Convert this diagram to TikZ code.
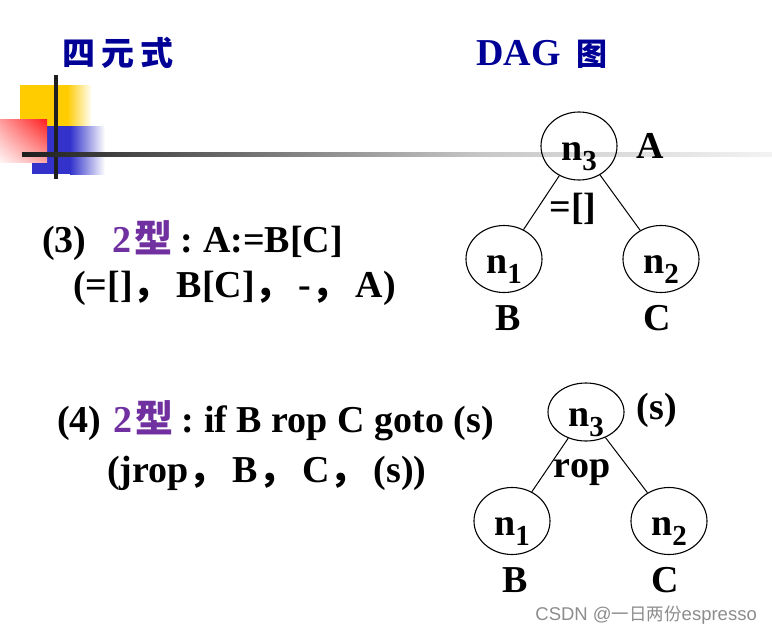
\documentclass[tikz,border=0pt]{standalone}
\usepackage{fontspec}
\setmainfont{Liberation Serif}
\newfontfamily\cjk{Noto Sans CJK SC}
\newfontfamily\marksans{Liberation Sans}
\usetikzlibrary{shapes.geometric,shadings}

\definecolor{titleblue}{RGB}{0,0,150}
\definecolor{typepurple}{RGB}{112,48,160}
\definecolor{barYellow}{RGB}{255,204,0}
\definecolor{barBlue}{RGB}{51,51,204}
\definecolor{barRed}{RGB}{255,30,30}

\newcommand{\nsub}[1]{n\raisebox{-10pt}{\fontsize{29}{29}\selectfont #1}}
\newcommand{\qc}{{\cjk ，}\hspace{6pt}}

\begin{document}
\begin{tikzpicture}[x=1pt,y=-1pt,node distance=157pt,
    font=\fontsize{38}{44}\selectfont\bfseries,
    dag/.style={ellipse,draw,line width=1.1pt,minimum width=76pt,minimum height=67pt,
        inner sep=0pt,text height=30pt,text depth=2pt},
    lbl/.style={inner sep=0pt},
    txtline/.style={anchor=base west,inner sep=0pt}]
\useasboundingbox (0,0) rectangle (772,635);

% corner ornament
\fill[barYellow] (20,85) rectangle (67,127);
\shade[left color=barYellow,right color=white] (67,85) rectangle (92,127);
\fill[barBlue] (32,126) rectangle (70,174);
\shade[left color=barBlue,right color=white] (70,126) rectangle (105,174);
\shade[upper right=barRed,lower left=barRed!5,upper left=barRed!45,lower right=barRed!40] (0,119) rectangle (47,162);
\fill[black!88] (54,75) rectangle (58,179);
\shade[left color=black!88,right color=black!22] (22,152.5) rectangle (480,156);
\shade[left color=black!22,right color=black!5] (480,152.5) rectangle (772,156);

% titles
\node[lbl,text=titleblue,font=\cjk\bfseries\fontsize{33}{33}\selectfont] (qtitle) at (118,53) {四\hspace{6pt}元\hspace{6pt}式};
\node[txtline,text=titleblue] (dtitle) at (476,65) {DAG\hspace{16pt}{\cjk\fontsize{31}{31}\selectfont 图}};

% quadruples
\node[txtline] (q3) at (42,252) {(3)\hspace{26pt}{\color{typepurple}2\hspace{3pt}{\cjk 型}}\hspace{8pt}:\hspace{10pt}A:=B[C]};
\node[txtline] (q3b) at (73,297) {(=[]\qc B[C]\qc -\qc A)};
\node[txtline] (q4) at (57,432) {(4)\hspace{12pt}{\color{typepurple}2\hspace{3pt}{\cjk 型}}\hspace{8pt}:\hspace{10pt}if B rop C goto (s)};
\node[txtline] (q4b) at (107,482) {(jrop\qc B\qc C\qc (s))};

% DAG for A:=B[C]
\node[dag]   (n1a) at (504,259)   {\nsub{1}};
\node[dag]   (n2a) [right of=n1a] {\nsub{2}};
\node[dag,minimum height=68pt] (n3a) at (579,146) {\nsub{3}};
\node[lbl]   (va)  at (650,146)   {A};
\node[lbl]   (vb)  at (508,318)   {B};
\node[lbl]   (vc)  at (657,318)   {C};
\node[lbl]   (opa) at (573,209)   {=[]};
\path[line width=1pt] (n3a) edge (n1a)
                            edge (n2a);

% DAG for if B rop C goto (s)
\node[dag]   (n1b) at (512,521)   {\nsub{1}};
\node[dag]   (n2b) [right of=n1b] {\nsub{2}};
\node[dag,minimum height=58pt] (n3b) at (586,412) {\nsub{3}};
\node[lbl]   (vs)  at (657,410)   {(s)};
\node[lbl]   (vb2) at (515,580)   {B};
\node[lbl]   (vc2) at (665,580)   {C};
\node[lbl]   (opb) at (582,473)   {rop};
\path[line width=1pt] (n3b) edge (n1b)
                            edge (n2b);

\node[lbl,anchor=east,text=black!45,font=\marksans\fontsize{18.5}{18.5}\selectfont] (mark) at (757,615) {CSDN @{\cjk\fontsize{17.5}{17.5}\selectfont 一日两份}espresso};
\end{tikzpicture}
\end{document}
